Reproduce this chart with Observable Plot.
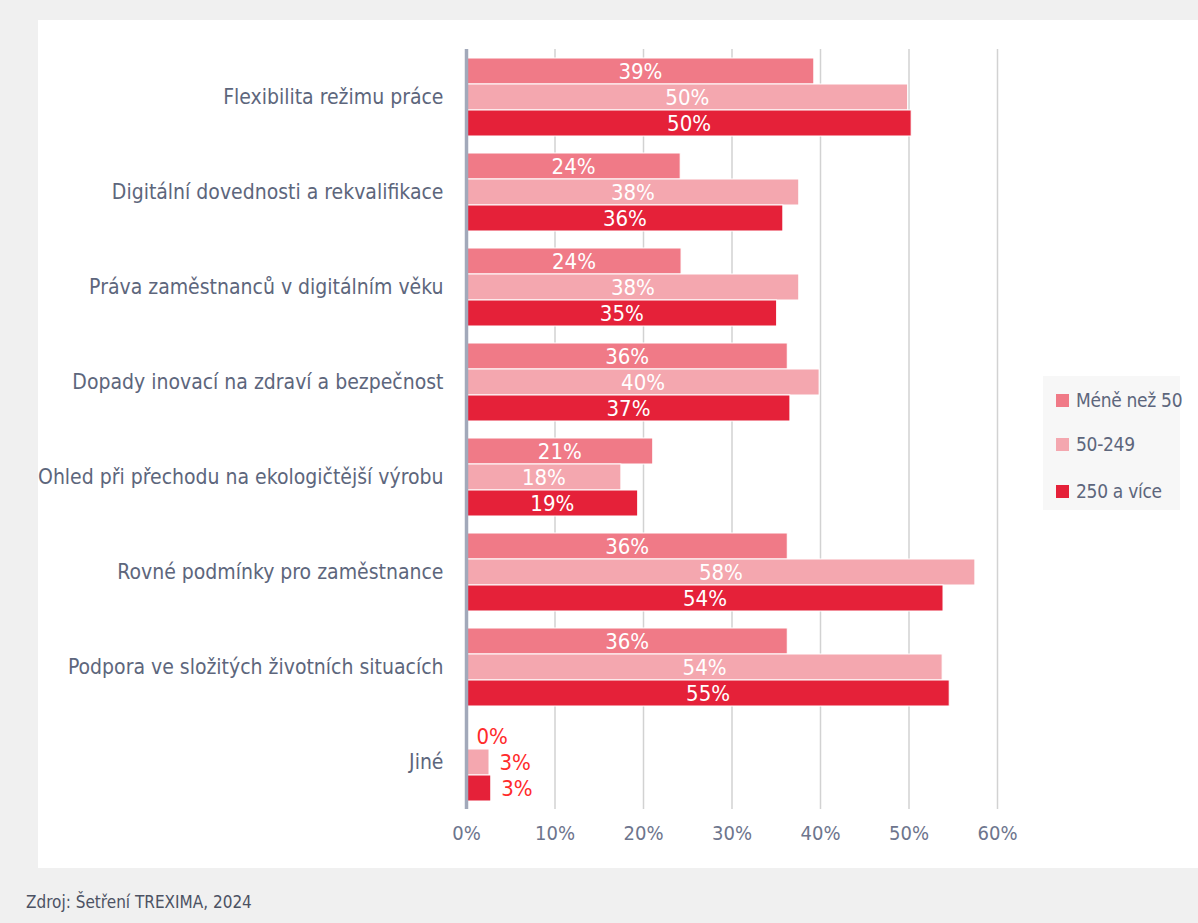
<!DOCTYPE html>
<html>
<head>
<meta charset="utf-8">
<script src="https://cdn.jsdelivr.net/npm/d3@7"></script>
<script src="https://cdn.jsdelivr.net/npm/@observablehq/plot@0.6"></script>
<style>
  html, body { margin: 0; padding: 0; }
  body { width: 1198px; height: 923px; background: #f0f0f0; position: relative; overflow: hidden;
         font-family: "Liberation Sans Narrow", "DejaVu Sans Condensed", "Roboto", sans-serif; font-stretch: condensed; }
  #panel { position: absolute; left: 38px; top: 20px; width: 1160px; height: 848px; background: #fff; }
  #legend { position: absolute; left: 1043px; top: 376px; width: 137px; height: 134px; background: #f7f7f7; }
  .item { position: absolute; left: 13px; height: 24px; display: flex; align-items: center; font-size: 19px; color: #5d667c; white-space: nowrap; letter-spacing: -0.3px; }
  .sw { width: 13px; height: 13px; margin-right: 7px; flex: none; }
  #source { position: absolute; left: 26px; top: 892px; font-size: 17px; color: #4c5263; }
</style>
</head>
<body>
<div id="panel"></div>
<div id="legend"></div>
<div id="source">Zdroj: Šetření TREXIMA, 2024</div>
<script>
const categories = [
  "Flexibilita režimu práce",
  "Digitální dovednosti a rekvalifikace",
  "Práva zaměstnanců v digitálním věku",
  "Dopady inovací na zdraví a bezpečnost",
  "Ohled při přechodu na ekologičtější výrobu",
  "Rovné podmínky pro zaměstnance",
  "Podpora ve složitých životních situacích",
  "Jiné"
];
const series = ["Méně než 50", "50-249", "250 a více"];
const colors = ["#f07a87", "#f4a7af", "#e52139"];
const valuesSmall  = [39.3, 24.2, 24.3, 36.3, 21.1, 36.3, 36.3, 0];
const valuesMedium = [49.9, 37.6, 37.6, 39.9, 17.5, 57.5, 53.8, 2.6];
const valuesLarge  = [50.3, 35.8, 35.1, 36.6, 19.4, 53.9, 54.6, 2.8];
const xTicks = [0, 10, 20, 30, 40, 50, 60];

const seriesValues = [valuesSmall, valuesMedium, valuesLarge];
const rows = [];
categories.forEach((c, i) => {
  series.forEach((s, j) => rows.push({category: c, series: s, value: seriesValues[j][i]}));
});

const fontFam = '"Liberation Sans Narrow", "DejaVu Sans Condensed", Roboto, sans-serif';

const chart = Plot.plot({
  width: 1160,
  height: 848,
  marginLeft: 428,
  marginRight: 201,
  marginTop: 27,
  marginBottom: 57,
  style: {fontFamily: fontFam, background: "transparent", overflow: "visible"},
  facet: {data: rows, y: "category"},
  fy: {domain: categories, padding: 0, label: null, tickSize: 0, tickPadding: 23},
  y: {domain: series, axis: null, paddingInner: 0, paddingOuter: 0.32},
  x: {domain: [0, 60], ticks: xTicks, tickFormat: d => d + "%", tickSize: 0, tickPadding: 16, label: null},
  color: {domain: series, range: colors},
  marks: [
    Plot.ruleX(xTicks.slice(1), {stroke: "#d2d2d2", strokeWidth: 1.5}),
    Plot.barX(rows, {filter: d => d.value > 0, x: "value", y: "series", fill: "series", stroke: "#fff", strokeWidth: 1}),
    Plot.ruleX([0], {stroke: "#a2a9ba", strokeWidth: 3.5}),
    Plot.text(rows, {filter: d => d.value >= 5, x: d => d.value / 2, y: "series", text: d => Math.round(d.value) + "%",
      fill: "#fff", fontSize: 22, fontFamily: fontFam}),
    Plot.text(rows, {filter: d => d.value < 5, x: "value", y: "series", text: d => Math.round(d.value) + "%",
      fill: "#ff2b2b", fontSize: 22, textAnchor: "start", dx: 10, fontFamily: fontFam})
  ]
});

chart.querySelectorAll("g[aria-label='fy-axis'] text, g[aria-label='fy-axis tick label'] text").forEach(t => {
  t.setAttribute("font-size", 21); t.setAttribute("fill", "#5d667c");
});
chart.querySelectorAll("g[aria-label='x-axis'] text, g[aria-label='x-axis tick label'] text").forEach(t => {
  t.setAttribute("font-size", 20); t.setAttribute("fill", "#6d758d");
});
chart.querySelectorAll("g[aria-label='fy-axis'], g[aria-label='fy-axis tick label'], g[aria-label='x-axis'], g[aria-label='x-axis tick label']").forEach(g => {
  g.setAttribute("font-size", 21);
});
document.getElementById("panel").appendChild(chart);

const legend = document.getElementById("legend");
const tops = [12, 56, 103];
series.forEach((s, i) => {
  const it = document.createElement("div");
  it.className = "item";
  it.style.top = tops[i] + "px";
  const sw = document.createElement("div");
  sw.className = "sw";
  sw.style.background = colors[i];
  const tx = document.createElement("span");
  tx.textContent = s;
  it.appendChild(sw); it.appendChild(tx);
  legend.appendChild(it);
});
</script>
</body>
</html>
